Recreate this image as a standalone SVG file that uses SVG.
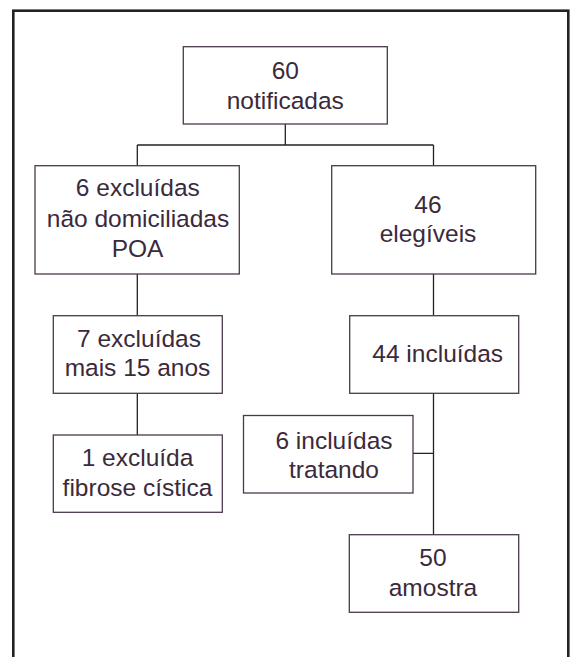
<svg xmlns="http://www.w3.org/2000/svg" width="570" height="657" viewBox="0 0 570 657">
<style>
.box{fill:#ffffff;stroke:#4a3a4a;stroke-width:1.3}
.t{font-family:"Liberation Sans",Arial,sans-serif;font-size:24.5px;fill:#3b2a3b;text-anchor:middle}
.c{fill:none;stroke:#222222;stroke-width:1.3}
</style>
<rect x="0" y="0" width="570" height="657" fill="#ffffff"/>
<rect x="13.3" y="10.7" width="555" height="700" fill="none" stroke="#222222" stroke-width="2.6"/>
<g id="connectors">
<path class="c" d="M285.3 124 V145 M137.3 145 H433.5 M137.3 145 V165.7 M433.5 145 V165.7"/>
<path class="c" d="M137.3 274 V315.7 M137.3 393.3 V435"/>
<path class="c" d="M433.5 274 V315.7 M433.5 393.3 V534.7 M413 453.3 H433.5"/>
</g>
<g id="n60">
<rect class="box" x="183.3" y="46.7" width="204" height="77.3"/>
<text class="t" x="285.3" y="79.3">60</text>
<text class="t" x="285.3" y="109.3">notificadas</text>
</g>
<g id="n6excl">
<rect class="box" x="35" y="165.7" width="204.3" height="108.3"/>
<text class="t" x="137.8" y="196.3">6 excluídas</text>
<text class="t" x="138" y="226.7">não domiciliadas</text>
<text class="t" x="137.5" y="257.3">POA</text>
</g>
<g id="n46">
<rect class="box" x="331.7" y="165.7" width="204" height="108.3"/>
<text class="t" x="428" y="212.5">46</text>
<text class="t" x="428" y="242.3">elegíveis</text>
</g>
<g id="n7excl">
<rect class="box" x="53.3" y="315.7" width="169" height="77.6"/>
<text class="t" x="139" y="346.7">7 excluídas</text>
<text class="t" x="137.5" y="376">mais 15 anos</text>
</g>
<g id="n44">
<rect class="box" x="349.7" y="315.7" width="169" height="77.6"/>
<text class="t" x="437.7" y="362.3">44 incluídas</text>
</g>
<g id="n1excl">
<rect class="box" x="53.3" y="435" width="169" height="77.3"/>
<text class="t" x="137.5" y="465.7">1 excluída</text>
<text class="t" x="137.5" y="496">fibrose cística</text>
</g>
<g id="n6incl">
<rect class="box" x="243.5" y="415.5" width="169.5" height="77.5"/>
<text class="t" x="334" y="449">6 incluídas</text>
<text class="t" x="334" y="478.3">tratando</text>
</g>
<g id="n50">
<rect class="box" x="349.3" y="534.7" width="169.4" height="77.6"/>
<text class="t" x="433" y="565.7">50</text>
<text class="t" x="433" y="596">amostra</text>
</g>
</svg>
